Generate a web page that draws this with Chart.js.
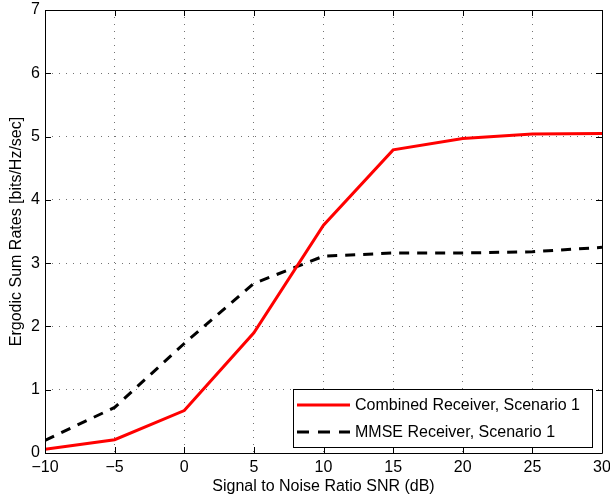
<!DOCTYPE html>
<html>
<head>
<meta charset="utf-8">
<script src="https://cdn.jsdelivr.net/npm/chart.js@4"></script>
<style>
html,body{margin:0;padding:0;background:#fff;}
#wrap{width:610px;height:500px;position:relative;}
</style>
</head>
<body>
<div id="wrap"><canvas id="c" width="610" height="500"></canvas></div>
<script>
const snr = [-10, -5, 0, 5, 10, 15, 20, 25, 30];
const combined = [0.06, 0.21, 0.67, 1.90, 3.60, 4.79, 4.97, 5.04, 5.05];
const mmse = [0.20, 0.72, 1.73, 2.68, 3.11, 3.16, 3.16, 3.18, 3.25];
const seriesLabels = ['Combined Receiver, Scenario 1', 'MMSE Receiver, Scenario 1'];
const xTicks = [-10, -5, 0, 5, 10, 15, 20, 25, 30];
const yTicks = [0, 1, 2, 3, 4, 5, 6, 7];
const xTitle = 'Signal to Noise Ratio SNR (dB)';
const yTitle = 'Ergodic Sum Rates [bits/Hz/sec]';

const FONT = '"Liberation Sans", Arial, Helvetica, sans-serif';

const frame = {
  id: 'frame',
  afterDatasetsDraw(chart) {
    const {ctx, chartArea: a, scales} = chart;
    ctx.save();
    ctx.strokeStyle = '#000';
    ctx.lineWidth = 1;
    ctx.beginPath();
    ctx.rect(Math.round(a.left) + 0.5, Math.round(a.top) + 0.5, Math.round(a.right - a.left), Math.round(a.bottom - a.top));
    ctx.stroke();
    // inward ticks
    const tl = 6;
    ctx.beginPath();
    xTicks.forEach(v => {
      const x = Math.round(scales.x.getPixelForValue(v)) + 0.5;
      ctx.moveTo(x, a.bottom); ctx.lineTo(x, a.bottom - tl);
      ctx.moveTo(x, a.top); ctx.lineTo(x, a.top + tl);
    });
    yTicks.forEach(v => {
      const y = Math.round(scales.y.getPixelForValue(v)) + 0.5;
      ctx.moveTo(a.left, y); ctx.lineTo(a.left + tl, y);
      ctx.moveTo(a.right, y); ctx.lineTo(a.right - tl, y);
    });
    ctx.stroke();
    ctx.restore();
  },
  afterDraw(chart) {
    // legend box inside plot, lower right
    const {ctx} = chart;
    const ds = chart.data.datasets;
    const bx = 293.5, by = 389.5, bw = 299, bh = 58;
    ctx.save();
    ctx.fillStyle = '#fff';
    ctx.fillRect(bx, by, bw, bh);
    ctx.strokeStyle = '#000';
    ctx.lineWidth = 1;
    ctx.strokeRect(bx, by, bw, bh);
    ctx.font = '16px ' + FONT;
    ctx.textBaseline = 'middle';
    ctx.textAlign = 'left';
    const rows = [405, 432];
    ds.forEach((d, i) => {
      const y = rows[i];
      ctx.beginPath();
      ctx.strokeStyle = d.borderColor;
      ctx.lineWidth = d.borderWidth;
      ctx.setLineDash(i === 1 ? [12, 9] : []);
      ctx.moveTo(297, y); ctx.lineTo(350, y);
      ctx.stroke();
      ctx.setLineDash([]);
      ctx.fillStyle = '#000';
      ctx.fillText(d.label, 355, y + 1);
    });
    ctx.restore();
  }
};

new Chart(document.getElementById('c'), {
  type: 'line',
  data: {
    datasets: [
      {
        label: seriesLabels[0],
        data: snr.map((x, i) => ({x, y: combined[i]})),
        borderColor: '#ff0000',
        borderWidth: 3,
        pointRadius: 0,
        fill: false,
        tension: 0
      },
      {
        label: seriesLabels[1],
        data: snr.map((x, i) => ({x, y: mmse[i]})),
        borderColor: '#000000',
        borderWidth: 3,
        borderDash: [10, 8],
        pointRadius: 0,
        fill: false,
        tension: 0
      }
    ]
  },
  options: {
    responsive: false,
    animation: false,
    events: [],
    layout: {padding: {left: 0, top: 10, right: 8, bottom: 0}},
    plugins: {legend: {display: false}, tooltip: {enabled: false}},
    scales: {
      x: {
        type: 'linear',
        min: -10, max: 30,
        afterBuildTicks: s => { s.ticks = xTicks.map(v => ({value: v})); },
        afterFit: s => { s.height = 47; s.paddingLeft = 0; s.paddingRight = 0; },
        ticks: {
          color: '#000',
          font: {family: FONT, size: 16},
          padding: 5,
          maxRotation: 0,
          callback: v => (v < 0 ? '\u2212' + Math.abs(v) : String(v))
        },
        grid: {
          color: 'rgba(0,0,0,0.55)',
          lineWidth: 1,
          drawTicks: false
        },
        border: {display: false, dash: [1, 6]},
        title: {
          display: true,
          text: xTitle,
          color: '#000',
          font: {family: FONT, size: 16},
          padding: {top: 0, bottom: 4}
        }
      },
      y: {
        type: 'linear',
        min: 0, max: 7,
        afterBuildTicks: s => { s.ticks = yTicks.map(v => ({value: v})); },
        afterFit: s => { s.width = 45; s.paddingTop = 0; s.paddingBottom = 0; },
        ticks: {
          color: '#000',
          font: {family: FONT, size: 16},
          padding: 5
        },
        grid: {
          color: 'rgba(0,0,0,0.55)',
          lineWidth: 1,
          drawTicks: false
        },
        border: {display: false, dash: [1, 6]},
        title: {
          display: true,
          text: yTitle,
          color: '#000',
          font: {family: FONT, size: 16},
          padding: {top: 7, bottom: 0}
        }
      }
    }
  },
  plugins: [frame]
});
</script>
</body>
</html>
